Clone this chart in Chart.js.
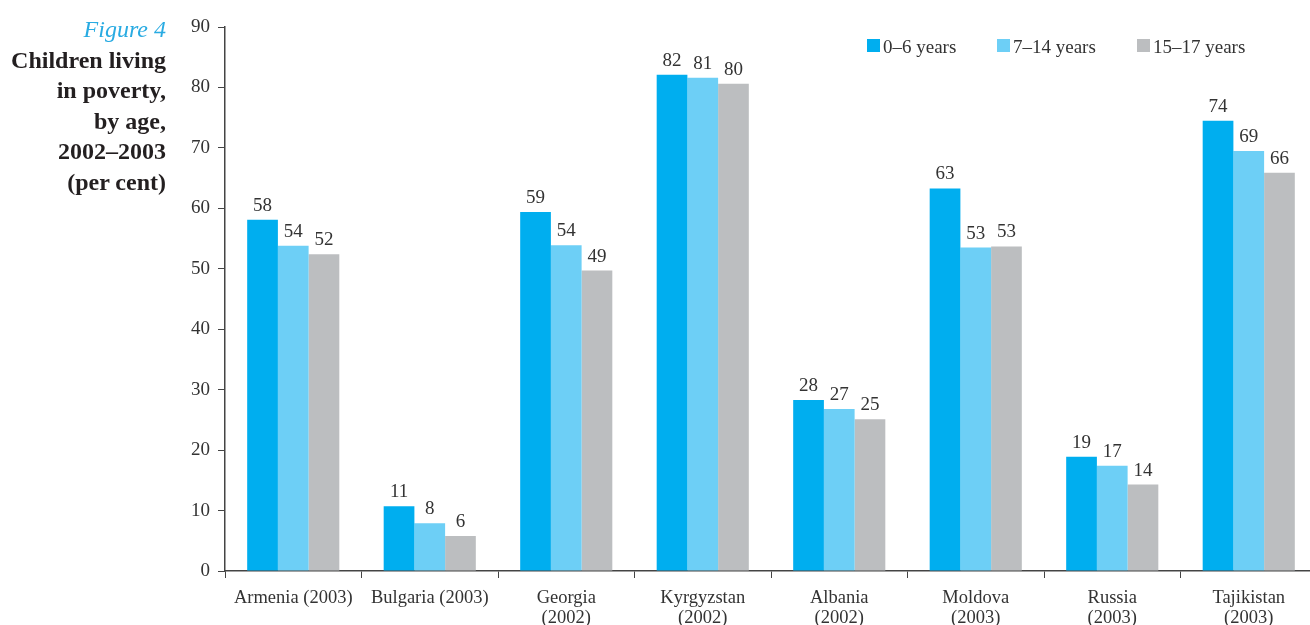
<!DOCTYPE html>
<html>
<head>
<meta charset="utf-8">
<script src="https://cdn.jsdelivr.net/npm/chart.js@4/dist/chart.umd.min.js"></script>
<style>
html, body { margin: 0; padding: 0; overflow: hidden; background: #fff; }
#wrap { position: relative; width: 1320px; height: 625px; }
#title {
    position: absolute; left: 0; top: 14px; width: 166px;
    text-align: right; font-family: "Liberation Serif", serif;
    font-size: 24px; line-height: 30.5px; font-weight: bold; color: #231f20;
}
#title .fig { color: #29abe2; font-style: italic; font-weight: normal; }
</style>
</head>
<body>
<div id="wrap">
    <div id="title"><span class="fig">Figure 4</span><br>Children living<br>in poverty,<br>by age,<br>2002–2003<br>(per cent)</div>
    <canvas id="chart" width="1320" height="625"></canvas>
</div>
<script>
const countries = [
    "Armenia (2003)",
    "Bulgaria (2003)",
    ["Georgia", "(2002)"],
    ["Kyrgyzstan", "(2002)"],
    ["Albania", "(2002)"],
    ["Moldova", "(2003)"],
    ["Russia", "(2003)"],
    ["Tajikistan", "(2003)"],
];
const ageGroups = ["0–6 years", "7–14 years", "15–17 years"];

const age0to6 = [58.1, 10.7, 59.4, 82.1, 28.3, 63.3, 18.9, 74.5];
const age7to14 = [53.8, 7.9, 53.9, 81.6, 26.8, 53.5, 17.4, 69.5];
const age15to17 = [52.4, 5.8, 49.7, 80.6, 25.1, 53.7, 14.3, 65.9];

// printed labels (as shown on the original)
const labels0to6 = [58, 11, 59, 82, 28, 63, 19, 74];
const labels7to14 = [54, 8, 54, 81, 27, 53, 17, 69];
const labels15to17 = [52, 6, 49, 80, 25, 53, 14, 66];

const yMin = 0;
const yMax = 90;
const yStep = 10;

const colors = ["#00aeef", "#6dcff6", "#bcbec0"];
const serif = "'Liberation Serif', serif";
const textColor = "#333333";

const valueLabels = {
    id: "valueLabels",
    afterDatasetsDraw: (chart) => {
        const { ctx } = chart;
        ctx.save();
        ctx.font = `19px ${serif}`;
        ctx.fillStyle = textColor;
        ctx.textAlign = "center";
        ctx.textBaseline = "alphabetic";
        chart.data.datasets.forEach((ds, i) => {
            chart.getDatasetMeta(i).data.forEach((bar, j) => {
                ctx.fillText(String(ds.printed[j]), bar.x, bar.y - 9);
            });
        });
        ctx.restore();
    },
};

const legendRow = {
    id: "legendRow",
    afterDraw: (chart) => {
        const { ctx } = chart;
        const starts = [867, 997, 1137];
        ctx.save();
        ctx.font = `19px ${serif}`;
        ctx.textBaseline = "alphabetic";
        chart.data.datasets.forEach((ds, i) => {
            ctx.fillStyle = ds.backgroundColor;
            ctx.fillRect(starts[i], 39, 13, 13);
            ctx.fillStyle = textColor;
            ctx.fillText(ds.label, starts[i] + 16, 53);
        });
        ctx.restore();
    },
};

const ctx = document.getElementById("chart").getContext("2d");

new Chart(ctx, {
    type: "bar",
    data: {
        labels: countries,
        datasets: [
            { label: ageGroups[0], data: age0to6, printed: labels0to6, backgroundColor: colors[0] },
            { label: ageGroups[1], data: age7to14, printed: labels7to14, backgroundColor: colors[1] },
            { label: ageGroups[2], data: age15to17, printed: labels15to17, backgroundColor: colors[2] },
        ],
    },
    options: {
        responsive: false,
        animation: false,
        maintainAspectRatio: false,
        layout: { padding: { left: 165, top: 27, right: 3, bottom: 0 } },
        datasets: {
            bar: { categoryPercentage: 0.675, barPercentage: 1.0, borderWidth: 0 },
        },
        scales: {
            x: {
                afterFit: (scale) => { scale.height = 54; },
                grid: { offset: true, drawOnChartArea: false, drawTicks: true, tickLength: 7, color: "#444444" },
                border: { display: true, color: "#444444", width: 1.5 },
                ticks: {
                    color: textColor,
                    font: { family: serif, size: 18.5, lineHeight: 1.08 },
                    padding: 10,
                    maxRotation: 0,
                    autoSkip: false,
                },
            },
            y: {
                min: yMin,
                max: yMax,
                afterFit: (scale) => { scale.width = 60; },
                grid: { drawOnChartArea: false, drawTicks: true, tickLength: 7, color: "#444444" },
                border: { display: true, color: "#444444", width: 1.5 },
                ticks: {
                    stepSize: yStep,
                    color: textColor,
                    font: { family: serif, size: 19 },
                    padding: 8,
                },
            },
        },
        plugins: {
            legend: { display: false },
            tooltip: { enabled: false },
        },
    },
    plugins: [valueLabels, legendRow],
});
</script>
</body>
</html>
